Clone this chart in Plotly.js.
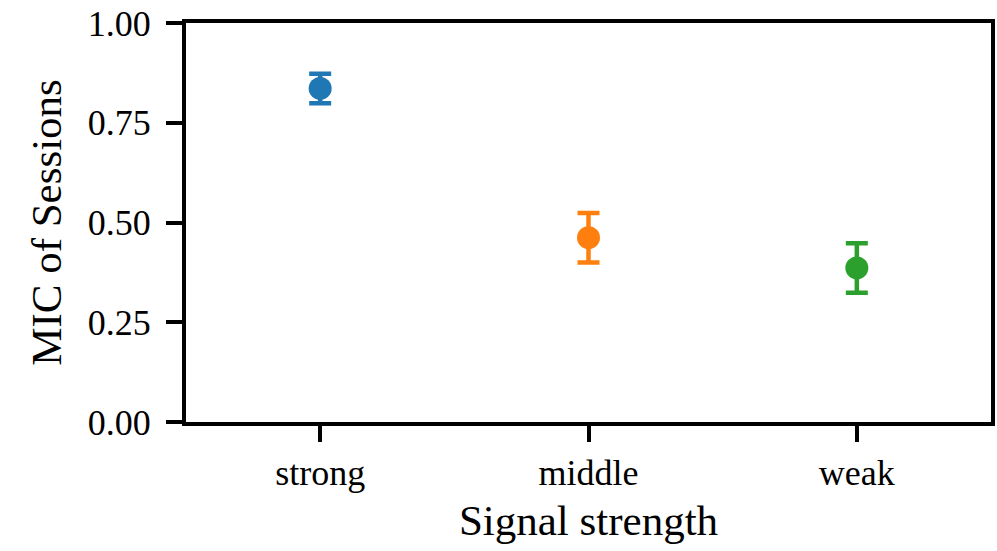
<!DOCTYPE html>
<html>
<head>
<meta charset="utf-8">
<script src="https://cdn.plot.ly/plotly-3.0.1.min.js"></script>
<style>
  html, body { margin: 0; padding: 0; background: #fff; }
  #chart { width: 997px; height: 551px; }
</style>
</head>
<body>
<div id="chart"></div>
<script>
// Mean MIC per signal-strength group, with error half-widths
const categories = ["strong", "middle", "weak"];
const micMean = [0.836, 0.462, 0.386];
const micErr = [0.037, 0.062, 0.062];
const colors = ["#1f77b4", "#ff7f0e", "#2ca02c"];
const yTickVals = [0, 0.25, 0.5, 0.75, 1.0];
const yTickText = ["0.00", "0.25", "0.50", "0.75", "1.00"];

const traces = categories.map((c, i) => ({
  type: "scatter",
  mode: "markers",
  x: [i],
  y: [micMean[i]],
  marker: { color: colors[i], size: 23 },
  error_y: {
    type: "data",
    array: [micErr[i]],
    visible: true,
    color: colors[i],
    thickness: 4.5,
    width: 11
  },
  showlegend: false,
  hoverinfo: "skip"
}));

const font = "'Liberation Serif', 'Times New Roman', serif";

const layout = {
  width: 997,
  height: 551,
  margin: { l: 186, r: 6, t: 23, b: 129, pad: 0 },
  paper_bgcolor: "#fff",
  plot_bgcolor: "#fff",
  font: { family: font, color: "#000", size: 36 },
  xaxis: {
    range: [-0.5, 2.5],
    tickvals: [0, 1, 2],
    ticktext: categories,
    ticks: "outside",
    ticklen: 16,
    tickwidth: 4,
    tickcolor: "#000",
    showline: true,
    linewidth: 4,
    linecolor: "#000",
    mirror: true,
    showgrid: false,
    zeroline: false,
    tickfont: { family: font, size: 36, color: "#000" },
    title: { text: "Signal strength", font: { family: font, size: 43, color: "#000" }, standoff: 14 },
    automargin: false
  },
  yaxis: {
    range: [0, 1],
    tickvals: yTickVals,
    ticktext: yTickText,
    ticks: "outside",
    ticklen: 16,
    tickwidth: 4,
    tickcolor: "#000",
    showline: true,
    linewidth: 4,
    linecolor: "#000",
    mirror: true,
    showgrid: false,
    zeroline: false,
    tickfont: { family: font, size: 36, color: "#000" },
    ticklabelstandoff: 8,
    title: { text: "MIC of Sessions", font: { family: font, size: 43, color: "#000" }, standoff: 14 },
    automargin: false
  }
};

Plotly.newPlot("chart", traces, layout, { displayModeBar: false, staticPlot: true });
</script>
</body>
</html>
